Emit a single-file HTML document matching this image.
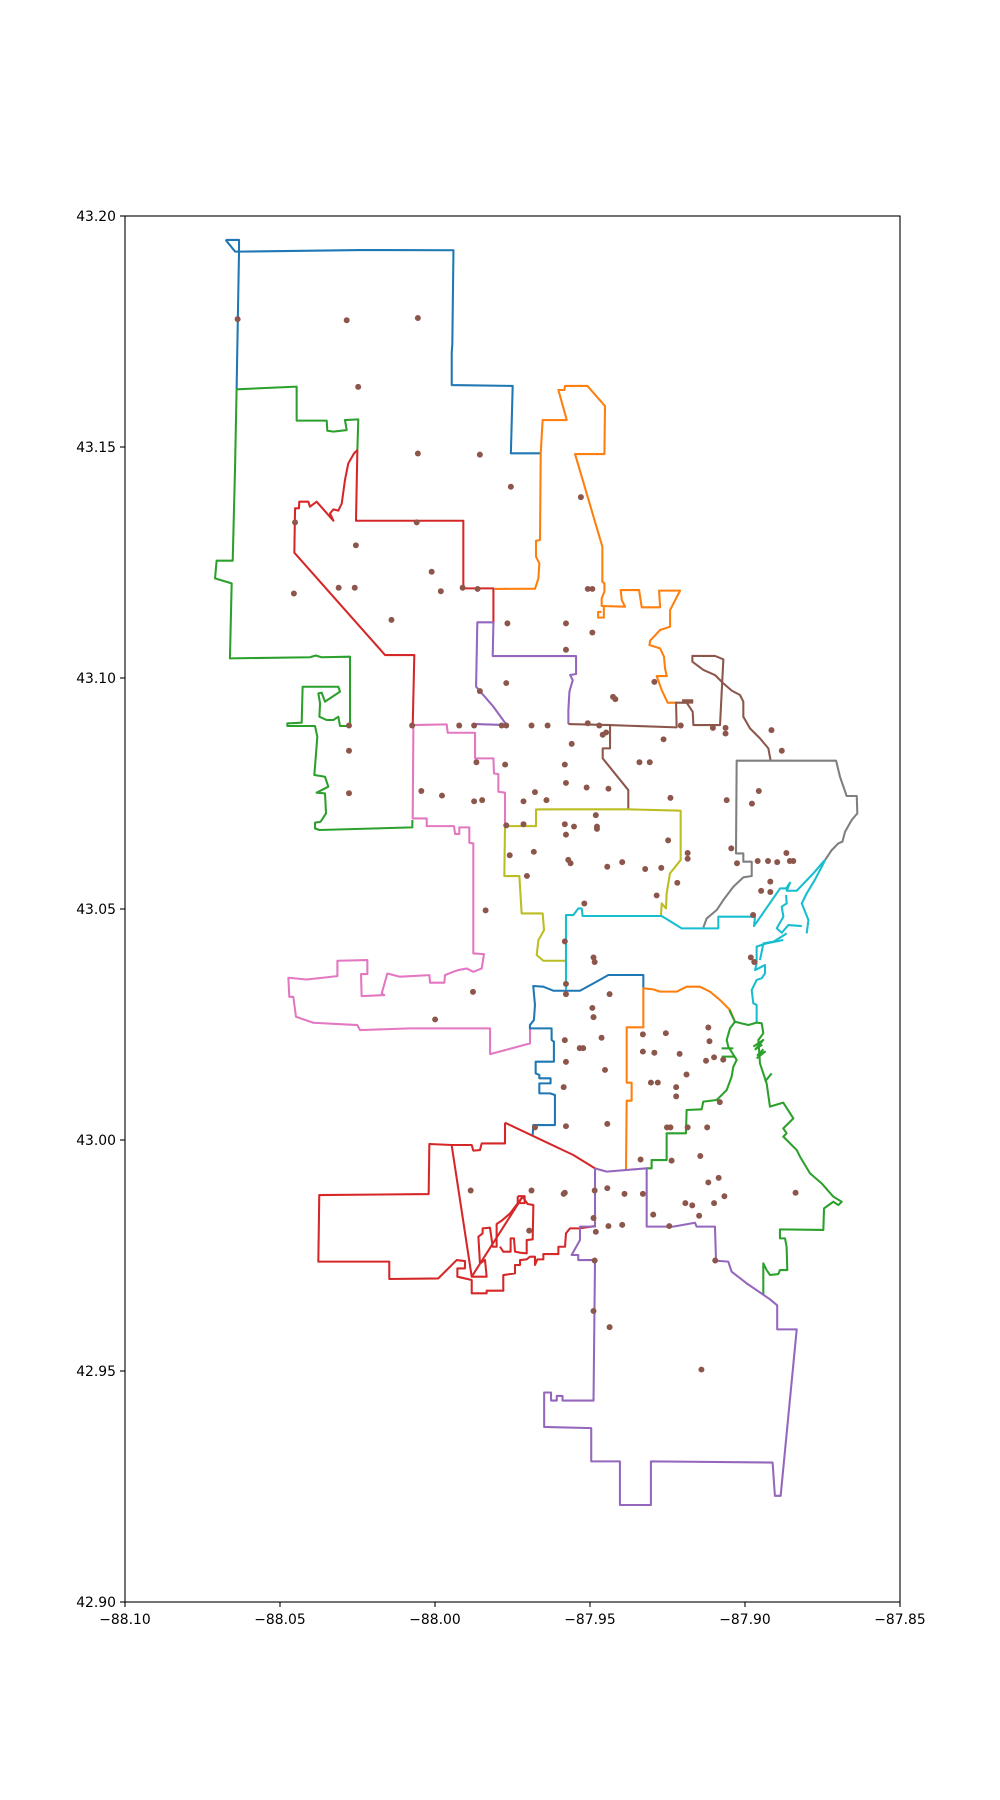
<!DOCTYPE html>
<html><head><meta charset="utf-8"><style>
html,body{margin:0;padding:0;background:#fff;}
svg{display:block;}
text{font-family:"DejaVu Sans","Liberation Sans",sans-serif;font-size:13.9px;fill:#000;}
</style></head><body>
<svg width="1000" height="1800" viewBox="0 0 1000 1800" xmlns="http://www.w3.org/2000/svg">
<rect x="0" y="0" width="1000" height="1800" fill="#fff"/>
<g transform="scale(1.148)" fill="none" stroke-width="1.8" stroke-linejoin="round">
<polyline stroke="#1f77b4" points="196.6,209 208.2,209 208.2,219.2 204.8,219.2 196.6,209"/>
<polyline stroke="#1f77b4" points="206.1,339.1 208.2,219.2 313.7,217.8 395,218 394,300 393.5,307 393.5,335.4 446.6,336.2 445,394.9 471,394.9"/>
<polyline stroke="#ff7f0e" points="431,513 466.1,512.8 469,503.8 469.8,490.7 466.9,484.9 466.9,471 470.4,470.4 471,394.9 472.7,365.9 493.7,365.9 486.4,339.7 491.6,339.7 492.2,336.2 511.7,336.2 527,353.7 526.5,395.5 500.9,395.5 524.7,476.2 524.7,506.7 526.5,508.2 526.5,515.4 524.1,521.2 524.1,527.9 544.5,528.5 541.6,522.7 540.7,514 556.7,514 559,529 575,529 574.1,514.5 592.4,514.5 583.7,531.4 583.7,545.9 575,548.8 566.3,558.1 565.7,561.9 575,564.8 578.4,572 579.3,582.2 580.8,588.9 572,588.9 576.4,601.1 581.6,612.1 589,612.1"/>
<polyline stroke="#ff7f0e" points="524.1,527.9 526,527.9 526,538 521,538 521,533 524,533"/>
<polyline stroke="#2ca02c" points="206.1,339.1 258.4,336.8 258.4,366.4 284.6,366.4 285.1,375.2 290.4,376 302,374.6 300.5,365.9 312.1,365.3 311.3,392"/>
<polyline stroke="#2ca02c" points="206.1,339.1 204.7,409.4 202.7,488.4 188.7,488.4 187.3,503.8 201.8,508.2 200.3,573.5 270,572.5 275,571 280,572.5 304.9,572 304.9,632.4 296.2,632.4 294.7,624.3 290.4,627.2 284.6,627.2 278.2,624.3 278.8,612.7 277.3,604 280.2,603.4 283.1,611.2 296.2,602.5 294.7,598.2 263.6,598.2 262.8,629.5 250.3,630.1 250.3,632.4 274.4,632.4 276.4,641.7 275.3,656.2 273.8,675.1 283.1,676.6 286,685.3 275.8,690.5 283.1,691.1 284,708.5 279.3,715.8 274.4,716.6 274.4,721.6 278.2,723 359.2,720.7 359.2,714.3"/>
<polyline stroke="#d62728" points="311.3,392 310.1,453.6 403.6,453.6 403.6,512.5 429.8,512.5 429.8,543"/>
<polyline stroke="#d62728" points="311.3,392 308.4,394.9 303.4,403.6 300.5,418.1 297.7,438.5 294.7,444.8 290.4,443.7 287.5,447.2 290.4,453.6 275.8,437 270,441.4 268.6,437 260.7,437 260.4,442.8 257,442.8 256.4,481.4 335.4,570.6 360.9,570.6 359.5,632.4"/>
<polyline stroke="#9467bd" points="495.1,630.7 495.1,618.5 496,602.5 498.9,592.4 496.6,588 501.8,587.1 501.8,571.5 429.2,571.5 429.8,542.1 415.8,542.1 414.7,598.2 429.8,615.6 441.4,631.6 413.8,630.7"/>
<polyline stroke="#8c564b" points="495.1,630.7 531.4,631.6 589.4,633.6 588.9,612.1 598.2,612.1 603.4,620 604,631.6 627.2,631.6 630.1,574.3 622.8,571.4 603.1,571.4 603.1,576.4 612.7,583.6 622.8,588 630.1,595.3 637.4,601.6 644.6,605.4 647.5,611.2 647.5,624.3 653.3,634.5 662,643.2 669.3,651.9 671.3,662.6"/>
<rect x="594.5" y="609.5" width="9" height="3" fill="#8c564b" stroke="#8c564b" stroke-width="0.8"/>
<polyline stroke="#8c564b" points="531.4,631.6 531.4,651.9 525,651.9 525,660.6 547.3,688.2 547.3,705"/>
<polyline stroke="#e377c2" points="360.1,631.6 389.1,631 390,638.3 413.8,638.3 413.8,660.6 429.8,660.6 430.3,673.7 434.1,674.3 434.1,689.7 439.9,690.5 439.9,719.6"/>
<polyline stroke="#e377c2" points="360.1,631.6 359.5,712.9 371.7,712.9 371.7,719.6 395.5,719.6 396.4,726.5 400.1,726.5 400.1,720.7 408.8,720.7 408.8,734.1 412.3,734.7 412.3,830.5 421.6,831.1 419.6,843.6 412.3,846.5 406.5,843.6 399.3,845 394.9,846.5 387.6,849.4 387.1,856 374.6,856 374,849.4 348.4,850.8 337.4,848 332.5,865.4 334.8,866.8 315,867.7 314.5,848.5 320,848.5 320,836.3 293.9,836.9 293.9,850.3 267.1,853.2 251.2,851.7 252,868.3 255.5,868.3 257.8,885.7 272.9,890.9 311.3,892.9 313.6,897.3 357.2,895.8 426.9,895.8 426.9,918.2 461.7,908.9 461.7,895.8"/>
<polyline stroke="#7f7f7f" points="612.7,807.8 615.6,800 624.3,792.7 630.1,784 638.8,772.4 647.5,764.3 654.8,763.1 654.8,750.6 647.5,750.6 647.5,743.4 641.1,743.4 641.7,662.6 728.3,662.6 731.7,676.6 735.2,686.7 737.5,693.4 746.3,693.4 746.8,708.5 741.9,714.3 736.1,724.5 733.8,733.2 730.3,734.6 724.5,740.5 718.7,749.2"/>
<polyline stroke="#bcbd22" points="439.9,719.6 466.9,719.6 466.9,705.1 487.8,705 547.3,705 592.9,706.2 592.9,749.2 583.6,760.8 580.7,778.2 580.1,791.3 576.4,786.9 575.8,797.1"/>
<polyline stroke="#bcbd22" points="439.9,719.6 439.3,763.1 452.4,763.1 454.4,795.7 472.7,795.7 473.9,810.2 469,818.9 467.5,832 473.3,836.9 492.5,836.9"/>
<polyline stroke="#17becf" points="493,862 493,818.9 493,797.1 499.4,797.1 503.8,791.3 506.7,791.3 507.5,797.9 576.4,797.9 593.8,808.7 625.7,808.7 625.7,798.5 657.7,798.5 656.8,806.7 679.5,773.9 684.7,773.9 688.2,768.9 685.3,775.9 694,775.9 708.5,760.8 717.2,750.6 718.7,749.2"/>
<polyline stroke="#17becf" points="684.7,779.7 685.3,786.9 680.9,789.8 682.4,798.5 676.6,808.7 681,812.5 686.7,805.8 698.4,806.7"/>
<polyline stroke="#17becf" points="702.7,813 704.2,801.4 698.4,786.9 702.7,778.2 709.7,766.6 715.8,755 718.7,749.2"/>
<polyline stroke="#17becf" points="662,836.3 665,821.8 673.7,820.3 685.3,813.1"/>
<polyline stroke="#17becf" points="659.1,891.4 659.1,875.4 656.2,874 654.8,862.4 659.1,853.6 663.5,852.2 666.4,847.8 666.4,840.6 657.7,845 659.1,839.1 659.1,824.6 667.8,821.7 682.3,818.8"/>
<polyline stroke="#1f77b4" points="560.4,860.9 560.4,849.3 529.9,849.3 519.7,855.1 505.2,863 493.6,863 482,863 473.3,859.5 464.5,858.9 466,875.4 465.1,888.5 461.6,892.9 461.6,895.8 480.5,895.8 480.5,905.9 482.5,907.4 482.5,924.8 466.6,924.8 466.6,935 469.8,936.4 469.8,939.3 479.6,939.3 479.6,943.7 469.8,943.7 469.8,952.4 479.1,952.4 483.4,953.8 483.4,980 464.5,980 464,988.7"/>
<polyline stroke="#ff7f0e" points="545.3,1019.2 545.9,958.8 550.2,958.8 550.2,943.1 545.9,943.1 545.9,894.9 560.4,894.9 560.4,860.9 569.1,861.8 574.9,863.8 589.4,863.8 598.1,859.5 609.7,859.5 618.5,863.8 627.2,871.1 635.9,879.8 640.2,890"/>
<polyline stroke="#2ca02c" points="635.3,879.8 640.2,890 651.9,892.9 659.1,890.8 663.5,891.4 664.9,900.1 660.6,905.9 662,926.3 667.8,943.7 670.7,964 682.3,960.5 691.1,974.2 682.3,982.9 685.2,987.2 682.3,990.1 694,1001.8 696.9,1007.6 705.6,1022.1 715.7,1030.8 725.9,1042.4 733.2,1046.8 730.3,1049.7 725.9,1046.8 717.8,1052.6 717.2,1071.4 679.4,1070.9 679.4,1078.7 683.8,1078.7 685.2,1086 685.8,1106.3 679.4,1106.3 678,1109.8 670.7,1110.6 667.8,1106.3 664.9,1100.5 664.9,1128.1"/>
<polyline stroke="#2ca02c" points="640.2,890 635.9,895.8 633,905.9 634.4,911.7 641.7,923.3 638.8,929.2 637.3,937.9 633,949.5 627.2,955.3 624.3,958.2 612.6,959.6 611.2,966.3 598.1,966.9 597.5,987.2 580.7,987.2 580.7,1010.5 567.6,1010.5 567.6,1017.7 563.3,1017.7"/>
<polyline stroke="#2ca02c" points="628.6,913.2 638.8,913.2"/>
<polyline stroke="#2ca02c" points="628.6,920.4 640.2,920.4"/>
<polyline stroke="#2ca02c" points="656.2,911.7 664.9,905.9 658,914 664,910"/>
<polyline stroke="#2ca02c" points="659.1,921.9 666.4,916.1 660,919 665,914"/>
<polyline stroke="#2ca02c" points="666.4,942.2 672.2,935"/>
<polyline stroke="#d62728" points="439.9,978 499.4,1006.1 518.3,1017.7"/>
<polyline stroke="#d62728" points="439.9,978 439.9,996 419.6,996 418.1,1001.8 412.3,1002.3 410.9,997.4 393.4,997.4 374,996.5 373.4,1040.1 278.1,1041 277.3,1099 339.1,1099 339.1,1114.1 381.8,1113.6 397.8,1097.6 405,1098.5 405,1104.9 398.4,1104.9 398.4,1112.1 410.9,1115 410.9,1126.6 423.9,1126.6 423.9,1124.3 438.4,1124.3 438.4,1110.7 448.6,1109.2 448.6,1101.9 453,1101.9 453,1097.6 458.8,1097 461.7,1094.7 466,1094.7 466,1101.9 468.1,1097 473.3,1097 473.3,1092.4 486.4,1092.4 486.4,1086 492.2,1086 493,1074.4 496.5,1070 504.7,1070 518.3,1068"/>
<polyline stroke="#d62728" points="393.4,997.4 410.9,1112.1 455.3,1042.4 459.6,1048.8 464.6,1049.7 464,1079.6 458.8,1080.2 458.8,1091.8 453,1091.2 448.6,1090.3 447.7,1078.7 444.8,1078.7 444.8,1090.3 438.4,1090.3 435.5,1086"/>
<polyline stroke="#d62728" points="410.9,1112.1 423.9,1112.1 422.5,1097.6 418.1,1100.5 416.7,1077.3 420.4,1074.4 420.4,1070 426.8,1069.4 429.2,1086 432.6,1086 432.6,1066.2 437,1063.3 444.3,1057 455.3,1042.4"/>
<polyline stroke="#d62728" points="451,1042 457,1042 457,1048 451,1048 451,1042"/>
<polyline stroke="#9467bd" points="518.3,1017.7 528.4,1020.6 563.3,1017.7 563.3,1068.5 586.5,1068.5 605.4,1065.1 606.8,1068.5 622.8,1068.5 623.7,1098.2 634.4,1099 637.3,1107.7 650.4,1117.9 670.7,1131.8 677,1137 677,1158 694,1158 680,1303 675,1303 673,1274 567,1273 567,1311 540,1311 540,1273 515,1273 515,1244 474,1243 474,1213 480,1213 480,1220 485,1220 485,1216 490,1216 490,1220 517,1220 518.3,1097.6 503.7,1097.6 503.7,1093.2 497.9,1093.2 502.3,1085.4 505.2,1080.2 505.2,1068.5 518.3,1068.5 518.3,1017.7"/>
</g>
<g fill="#8c564b" transform="scale(1.148)">
<circle cx="207" cy="278" r="2.6"/><circle cx="302" cy="279" r="2.6"/><circle cx="364" cy="277" r="2.6"/><circle cx="312" cy="337" r="2.6"/><circle cx="364" cy="395" r="2.6"/><circle cx="418" cy="396" r="2.6"/><circle cx="445" cy="424" r="2.6"/><circle cx="506" cy="433" r="2.6"/><circle cx="257" cy="455" r="2.6"/><circle cx="363" cy="455" r="2.6"/><circle cx="310" cy="475" r="2.6"/><circle cx="376" cy="498" r="2.6"/><circle cx="384" cy="515" r="2.6"/><circle cx="403" cy="512" r="2.6"/><circle cx="416" cy="513" r="2.6"/><circle cx="442" cy="543" r="2.6"/><circle cx="512" cy="513" r="2.6"/><circle cx="516" cy="513" r="2.6"/><circle cx="256" cy="517" r="2.6"/><circle cx="295" cy="512" r="2.6"/><circle cx="309" cy="512" r="2.6"/><circle cx="341" cy="540" r="2.6"/><circle cx="493" cy="543" r="2.6"/><circle cx="516" cy="551" r="2.6"/><circle cx="493" cy="566" r="2.6"/><circle cx="570" cy="594" r="2.6"/><circle cx="534" cy="607" r="2.6"/><circle cx="536" cy="609" r="2.6"/><circle cx="418" cy="602" r="2.6"/><circle cx="441" cy="595" r="2.6"/><circle cx="304" cy="632" r="2.6"/><circle cx="304" cy="654" r="2.6"/><circle cx="304" cy="691" r="2.6"/><circle cx="359" cy="632" r="2.6"/><circle cx="400" cy="632" r="2.6"/><circle cx="413" cy="632" r="2.6"/><circle cx="437" cy="632" r="2.6"/><circle cx="441" cy="632" r="2.6"/><circle cx="463" cy="632" r="2.6"/><circle cx="477" cy="632" r="2.6"/><circle cx="512" cy="630" r="2.6"/><circle cx="522" cy="632" r="2.6"/><circle cx="525" cy="640" r="2.6"/><circle cx="528" cy="638" r="2.6"/><circle cx="498" cy="648" r="2.6"/><circle cx="593" cy="632" r="2.6"/><circle cx="621" cy="634" r="2.6"/><circle cx="632" cy="634" r="2.6"/><circle cx="632" cy="639" r="2.6"/><circle cx="672" cy="636" r="2.6"/><circle cx="681" cy="654" r="2.6"/><circle cx="492" cy="666" r="2.6"/><circle cx="493" cy="682" r="2.6"/><circle cx="530" cy="687" r="2.6"/><circle cx="511" cy="686" r="2.6"/><circle cx="466" cy="690" r="2.6"/><circle cx="476" cy="697" r="2.6"/><circle cx="456" cy="698" r="2.6"/><circle cx="367" cy="689" r="2.6"/><circle cx="385" cy="693" r="2.6"/><circle cx="413" cy="698" r="2.6"/><circle cx="420" cy="697" r="2.6"/><circle cx="415" cy="664" r="2.6"/><circle cx="440" cy="666" r="2.6"/><circle cx="441" cy="719" r="2.6"/><circle cx="456" cy="718" r="2.6"/><circle cx="465" cy="742" r="2.6"/><circle cx="444" cy="745" r="2.6"/><circle cx="459" cy="763" r="2.6"/><circle cx="492" cy="718" r="2.6"/><circle cx="520" cy="720" r="2.6"/><circle cx="519" cy="710" r="2.6"/><circle cx="520" cy="722" r="2.6"/><circle cx="500" cy="720" r="2.6"/><circle cx="493" cy="727" r="2.6"/><circle cx="495" cy="749" r="2.6"/><circle cx="497" cy="752" r="2.6"/><circle cx="529" cy="755" r="2.6"/><circle cx="542" cy="751" r="2.6"/><circle cx="562" cy="757" r="2.6"/><circle cx="576" cy="756" r="2.6"/><circle cx="590" cy="769" r="2.6"/><circle cx="572" cy="780" r="2.6"/><circle cx="582" cy="732" r="2.6"/><circle cx="584" cy="695" r="2.6"/><circle cx="578" cy="644" r="2.6"/><circle cx="557" cy="664" r="2.6"/><circle cx="566" cy="664" r="2.6"/><circle cx="599" cy="743" r="2.6"/><circle cx="599" cy="748" r="2.6"/><circle cx="633" cy="697" r="2.6"/><circle cx="637" cy="739" r="2.6"/><circle cx="655" cy="700" r="2.6"/><circle cx="661" cy="689" r="2.6"/><circle cx="642" cy="752" r="2.6"/><circle cx="660" cy="750" r="2.6"/><circle cx="669" cy="750" r="2.6"/><circle cx="677" cy="751" r="2.6"/><circle cx="685" cy="743" r="2.6"/><circle cx="688" cy="750" r="2.6"/><circle cx="691" cy="750" r="2.6"/><circle cx="671" cy="768" r="2.6"/><circle cx="671" cy="777" r="2.6"/><circle cx="663" cy="776" r="2.6"/><circle cx="656" cy="797" r="2.6"/><circle cx="654" cy="834" r="2.6"/><circle cx="657" cy="838" r="2.6"/><circle cx="423" cy="793" r="2.6"/><circle cx="412" cy="864" r="2.6"/><circle cx="379" cy="888" r="2.6"/><circle cx="509" cy="787" r="2.6"/><circle cx="492" cy="820" r="2.6"/><circle cx="517" cy="834" r="2.6"/><circle cx="518" cy="838" r="2.6"/><circle cx="493" cy="857" r="2.6"/><circle cx="531" cy="866" r="2.6"/><circle cx="493" cy="866" r="2.6"/><circle cx="516" cy="878" r="2.6"/><circle cx="517" cy="886" r="2.6"/><circle cx="505" cy="913" r="2.6"/><circle cx="508" cy="913" r="2.6"/><circle cx="492" cy="906" r="2.6"/><circle cx="493" cy="925" r="2.6"/><circle cx="524" cy="904" r="2.6"/><circle cx="527" cy="932" r="2.6"/><circle cx="491" cy="947" r="2.6"/><circle cx="493" cy="981" r="2.6"/><circle cx="466" cy="982" r="2.6"/><circle cx="529" cy="979" r="2.6"/><circle cx="560" cy="901" r="2.6"/><circle cx="560" cy="916" r="2.6"/><circle cx="570" cy="917" r="2.6"/><circle cx="567" cy="943" r="2.6"/><circle cx="580" cy="900" r="2.6"/><circle cx="592" cy="918" r="2.6"/><circle cx="573" cy="943" r="2.6"/><circle cx="589" cy="947" r="2.6"/><circle cx="598" cy="936" r="2.6"/><circle cx="617" cy="895" r="2.6"/><circle cx="618" cy="907" r="2.6"/><circle cx="622" cy="921" r="2.6"/><circle cx="615" cy="924" r="2.6"/><circle cx="630" cy="923" r="2.6"/><circle cx="589" cy="955" r="2.6"/><circle cx="627" cy="960" r="2.6"/><circle cx="581" cy="982" r="2.6"/><circle cx="584" cy="982" r="2.6"/><circle cx="616" cy="982" r="2.6"/><circle cx="599" cy="982" r="2.6"/><circle cx="610" cy="1007" r="2.6"/><circle cx="626" cy="1026" r="2.6"/><circle cx="617" cy="1030" r="2.6"/><circle cx="622" cy="1048" r="2.6"/><circle cx="609" cy="1059" r="2.6"/><circle cx="603" cy="1050" r="2.6"/><circle cx="585" cy="1011" r="2.6"/><circle cx="558" cy="1010" r="2.6"/><circle cx="560" cy="1040" r="2.6"/><circle cx="569" cy="1058" r="2.6"/><circle cx="544" cy="1040" r="2.6"/><circle cx="529" cy="1035" r="2.6"/><circle cx="518" cy="1037" r="2.6"/><circle cx="517" cy="1061" r="2.6"/><circle cx="492" cy="1039" r="2.6"/><circle cx="463" cy="1037" r="2.6"/><circle cx="519" cy="1073" r="2.6"/><circle cx="518" cy="1098" r="2.6"/><circle cx="530" cy="1068" r="2.6"/><circle cx="410" cy="1037" r="2.6"/><circle cx="461" cy="1072" r="2.6"/><circle cx="491" cy="1040" r="2.6"/><circle cx="517" cy="1142" r="2.6"/><circle cx="531" cy="1156" r="2.6"/><circle cx="623" cy="1098" r="2.6"/><circle cx="611" cy="1193" r="2.6"/><circle cx="693" cy="1039" r="2.6"/><circle cx="542" cy="1067" r="2.6"/><circle cx="583" cy="1068" r="2.6"/><circle cx="597" cy="1048" r="2.6"/><circle cx="631" cy="1042" r="2.6"/>
</g>
<rect x="125" y="216" width="775" height="1386" fill="none" stroke="#000" stroke-width="1.1"/>
<g stroke="#000" stroke-width="1.1">
<line x1="125" y1="1602" x2="125" y2="1607"/><line x1="280" y1="1602" x2="280" y2="1607"/><line x1="435" y1="1602" x2="435" y2="1607"/><line x1="590" y1="1602" x2="590" y2="1607"/><line x1="745" y1="1602" x2="745" y2="1607"/><line x1="900" y1="1602" x2="900" y2="1607"/>
<line x1="120" y1="216" x2="125" y2="216"/><line x1="120" y1="447" x2="125" y2="447"/><line x1="120" y1="678" x2="125" y2="678"/><line x1="120" y1="909" x2="125" y2="909"/><line x1="120" y1="1140" x2="125" y2="1140"/><line x1="120" y1="1371" x2="125" y2="1371"/><line x1="120" y1="1602" x2="125" y2="1602"/>
</g>
<g text-anchor="middle">
<text x="125" y="1624">−88.10</text><text x="280" y="1624">−88.05</text><text x="435" y="1624">−88.00</text><text x="590" y="1624">−87.95</text><text x="745" y="1624">−87.90</text><text x="900" y="1624">−87.85</text>
</g>
<g text-anchor="end">
<text x="116" y="221">43.20</text><text x="116" y="452">43.15</text><text x="116" y="683">43.10</text><text x="116" y="914">43.05</text><text x="116" y="1145">43.00</text><text x="116" y="1376">42.95</text><text x="116" y="1607">42.90</text>
</g>
</svg>
</body></html>
